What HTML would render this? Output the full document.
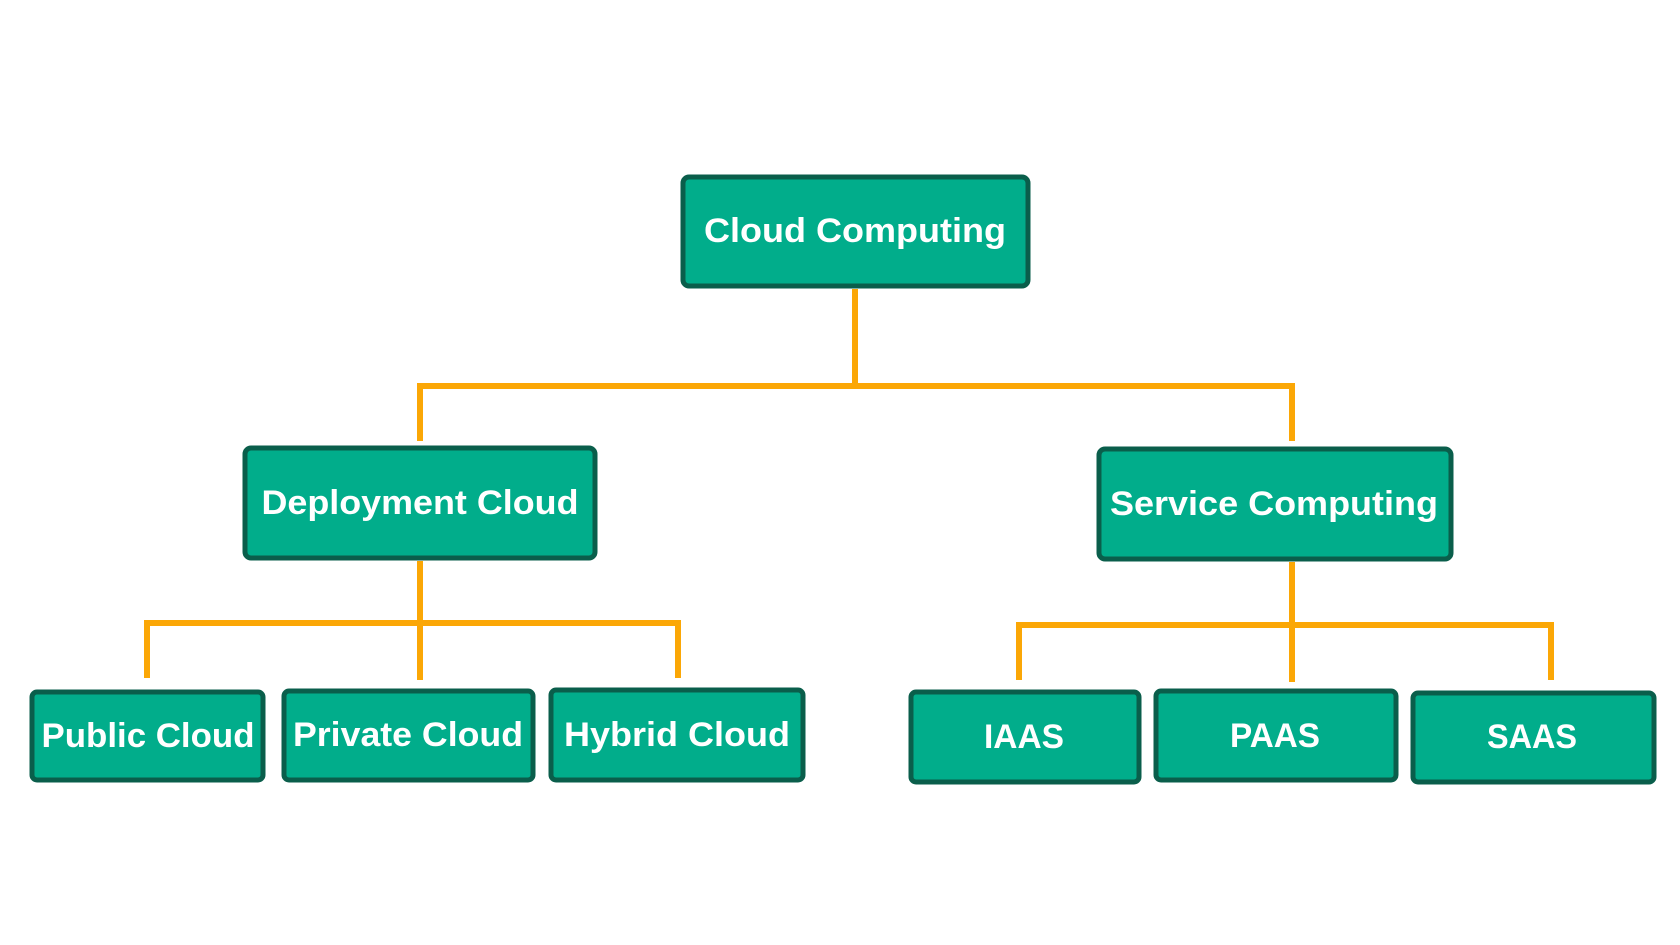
<!DOCTYPE html>
<html><head><style>html,body{margin:0;padding:0;background:#fff;}svg{display:block}</style></head>
<body>
<svg width="1680" height="945" viewBox="0 0 1680 945" xmlns="http://www.w3.org/2000/svg">
<g stroke="#FBA706" stroke-width="6" fill="none">
<line x1="855" y1="289" x2="855" y2="386"/>
<polyline points="420,441 420,386 1292,386 1292,441"/>
<line x1="420" y1="561" x2="420" y2="680"/>
<polyline points="147,678 147,623 678,623 678,678"/>
<line x1="1292" y1="562" x2="1292" y2="682"/>
<polyline points="1019,680 1019,625 1551,625 1551,680"/>
</g>
<g fill="#01AD8B" stroke="#0A5E4B" stroke-width="5">
<rect x="683" y="177" width="345" height="109" rx="6"/>
<rect x="245" y="448" width="350" height="110" rx="6"/>
<rect x="1099" y="449" width="352" height="110" rx="6"/>
<rect x="32" y="692" width="231" height="88" rx="5"/>
<rect x="284" y="691" width="249" height="89" rx="5"/>
<rect x="551" y="690" width="252" height="90" rx="5"/>
<rect x="911" y="692" width="228" height="90" rx="5"/>
<rect x="1156" y="691" width="240" height="89" rx="5"/>
<rect x="1413" y="693" width="241" height="89" rx="5"/>
</g>
<g fill="#fff" font-family="Liberation Sans, sans-serif" font-weight="bold" font-size="34" text-anchor="middle" lengthAdjust="spacingAndGlyphs">
<text x="855" y="242" textLength="302" lengthAdjust="spacingAndGlyphs">Cloud Computing</text>
<text x="420" y="514" textLength="317" lengthAdjust="spacingAndGlyphs">Deployment Cloud</text>
<text x="1274" y="515" textLength="328" lengthAdjust="spacingAndGlyphs">Service Computing</text>
<text x="148" y="747" textLength="213" lengthAdjust="spacingAndGlyphs">Public Cloud</text>
<text x="408" y="746" textLength="230" lengthAdjust="spacingAndGlyphs">Private Cloud</text>
<text x="677" y="746" textLength="226" lengthAdjust="spacingAndGlyphs">Hybrid Cloud</text>
<text x="1024" y="748" textLength="80" lengthAdjust="spacingAndGlyphs">IAAS</text>
<text x="1275" y="747" textLength="90" lengthAdjust="spacingAndGlyphs">PAAS</text>
<text x="1532" y="748" textLength="90" lengthAdjust="spacingAndGlyphs">SAAS</text>
</g>
</svg>
</body></html>
